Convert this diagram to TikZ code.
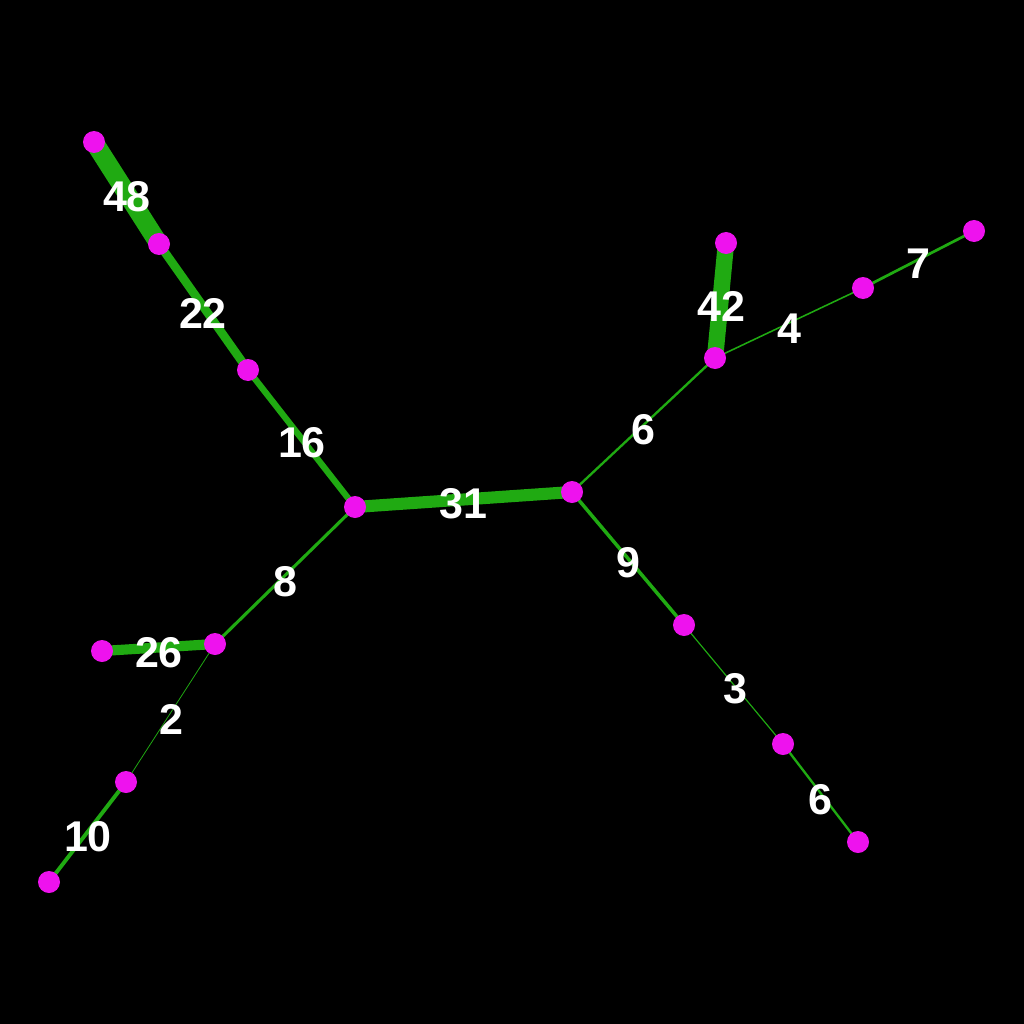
\documentclass[tikz,border=0pt]{standalone}
\usepackage{fontspec}
\setmainfont{Liberation Sans}
\usetikzlibrary{backgrounds}
\definecolor{edgegreen}{RGB}{32,170,18}
\definecolor{vmag}{RGB}{238,18,238}
\tikzset{
  vtx/.style={circle,fill=vmag,draw=none,minimum size=22pt,inner sep=0pt},
  wedge/.style={draw=edgegreen,line width=#1*0.39pt,line cap=butt},
  wlabel/.style={text=white,font=\fontsize{43}{43}\selectfont\bfseries,inner sep=0pt}
}
\begin{document}
\begin{tikzpicture}[x=1pt,y=-1pt]
\useasboundingbox (0,0) rectangle (1024,1024);
\node[vtx] (A) at (94,142) {};
\node[vtx] (B) at (159,244) {};
\node[vtx] (C) at (248,370) {};
\node[vtx] (D) at (355,507) {};
\node[vtx] (E) at (572,492) {};
\node[vtx] (F) at (715,358) {};
\node[vtx] (G) at (726,243) {};
\node[vtx] (H) at (863,288) {};
\node[vtx] (I) at (974,231) {};
\node[vtx] (J) at (684,625) {};
\node[vtx] (K) at (783,744) {};
\node[vtx] (L) at (858,842) {};
\node[vtx] (M) at (215,644) {};
\node[vtx] (N) at (102,651) {};
\node[vtx] (O) at (126,782) {};
\node[vtx] (P) at (49,882) {};
\begin{scope}[on background layer]
\fill[black] (0,0) rectangle (1024,1024);
\draw[wedge=48] (A.center) -- (B.center);
\draw[wedge=22] (B.center) -- (C.center);
\draw[wedge=16] (C.center) -- (D.center);
\draw[wedge=31] (D.center) -- (E.center);
\draw[wedge=6] (E.center) -- (F.center);
\draw[wedge=42] (F.center) -- (G.center);
\draw[wedge=4] (F.center) -- (H.center);
\draw[wedge=7] (H.center) -- (I.center);
\draw[wedge=9] (E.center) -- (J.center);
\draw[wedge=3] (J.center) -- (K.center);
\draw[wedge=6] (K.center) -- (L.center);
\draw[wedge=8] (D.center) -- (M.center);
\draw[wedge=26] (M.center) -- (N.center);
\draw[wedge=2] (M.center) -- (O.center);
\draw[wedge=10] (O.center) -- (P.center);
\end{scope}
\node[wlabel] (lAB) at (127,197) {48};
\node[wlabel] (lBC) at (203,313) {22};
\node[wlabel] (lCD) at (302,443) {16};
\node[wlabel] (lDE) at (463,504) {31};
\node[wlabel] (lEF) at (643,430) {6};
\node[wlabel] (lFG) at (721,306) {42};
\node[wlabel] (lFH) at (789,329) {4};
\node[wlabel] (lHI) at (918,264) {7};
\node[wlabel] (lEJ) at (628,563) {9};
\node[wlabel] (lJK) at (735,689) {3};
\node[wlabel] (lKL) at (820,800) {6};
\node[wlabel] (lDM) at (285,582) {8};
\node[wlabel] (lMN) at (159,653) {26};
\node[wlabel] (lMO) at (171,719) {2};
\node[wlabel] (lOP) at (88,837) {10};
\end{tikzpicture}
\end{document}
